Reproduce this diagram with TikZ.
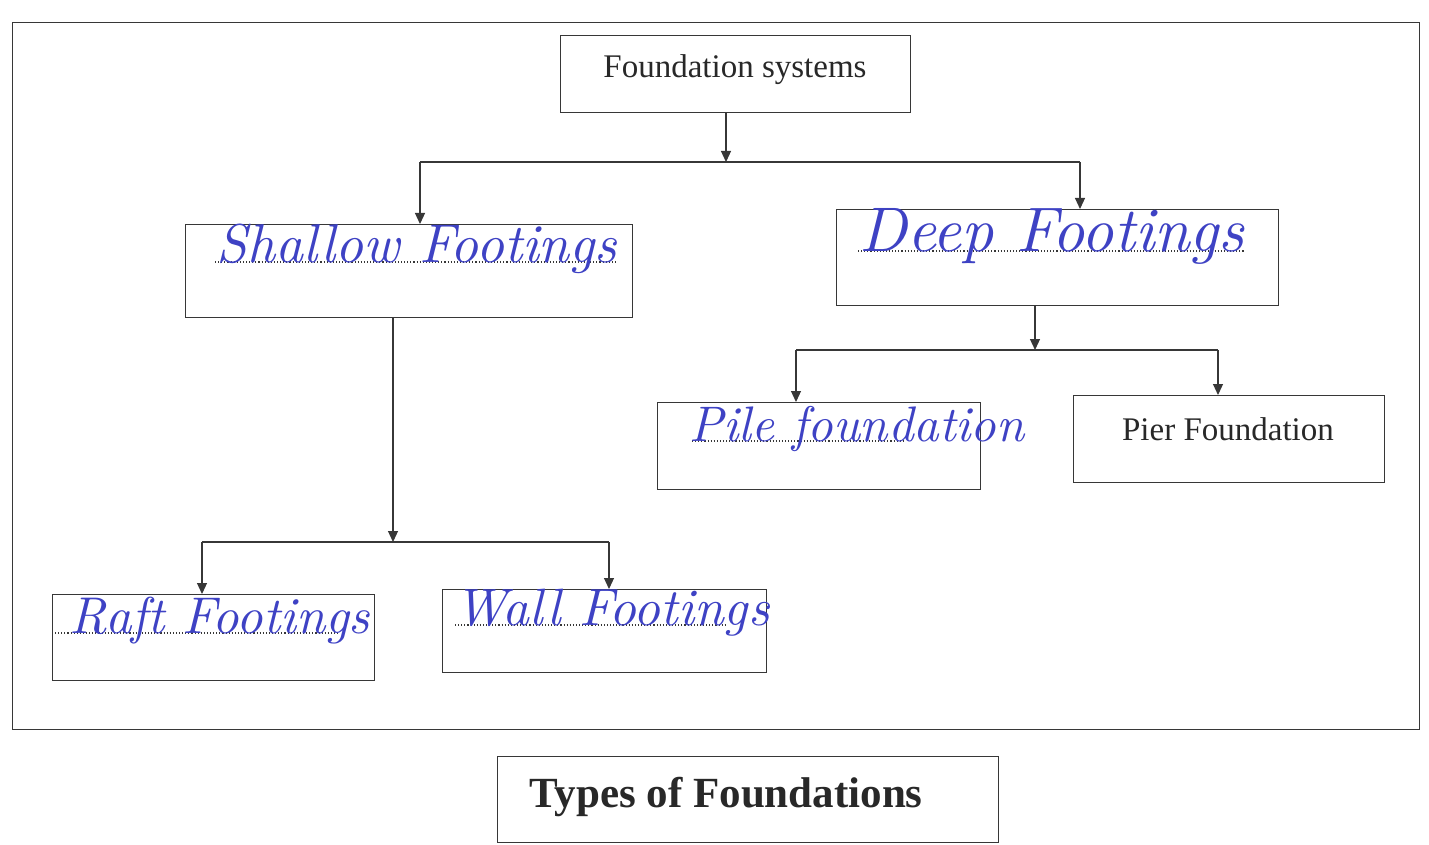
\documentclass[tikz,border=0pt]{standalone}
\usepackage{fontspec}
\usepackage{graphicx}
\newfontfamily\printfont{Liberation Serif}
\usetikzlibrary{arrows.meta}
\definecolor{handblue}{RGB}{62,66,196}
\definecolor{ink}{RGB}{55,55,55}
\definecolor{printink}{RGB}{40,40,40}
\tikzset{
  line/.style={draw=ink, line width=1.2pt},
  box/.style={line, rectangle, inner sep=0pt, anchor=north west},
  arr/.style={line, -{Triangle[length=11pt,width=10pt]}},
  hw/.style={anchor=base, text=handblue, inner sep=0pt},
  dotline/.style={draw=ink, line width=1.1pt, dotted},
  printed/.style={text=printink, inner sep=0pt, font=\printfont\fontsize{33}{38}\selectfont}
}
\newcommand{\handtext}[2]{\resizebox{#1pt}{!}{\itshape #2}}
\begin{document}
\begin{tikzpicture}[x=1pt,y=-1pt]
\useasboundingbox (0,0) rectangle (1429,845);
% outer frame
\node[box, minimum width=1407, minimum height=707] (frame) at (12,22) {};
% boxes
\node[box, minimum width=350, minimum height=77] (fs) at (560,35) {};
\node[box, minimum width=447, minimum height=93] (sh) at (185,224) {};
\node[box, minimum width=442, minimum height=96] (dp) at (836,209) {};
\node[box, minimum width=323, minimum height=87] (pile) at (657,402) {};
\node[box, minimum width=311, minimum height=87] (pier) at (1073,395) {};
\node[box, minimum width=322, minimum height=86] (raft) at (52,594) {};
\node[box, minimum width=324, minimum height=83] (wall) at (442,589) {};
\node[box, minimum width=501, minimum height=86] (types) at (497,756) {};
% printed texts
\node[printed] (fst) at (735,70) {Foundation systems};
\node[printed] (piert) at (1228,429) {Pier Foundation};
\node[printed, font=\printfont\bfseries\fontsize{43}{48}\selectfont] (typest) at (726,797) {Types of Foundations};
% dotted writing lines
\coordinate (d1a) at (215,262); \coordinate (d1b) at (615,262);
\coordinate (d2a) at (858,251); \coordinate (d2b) at (1245,251);
\coordinate (d3a) at (692,441); \coordinate (d3b) at (905,441);
\coordinate (d4a) at (55,633); \coordinate (d4b) at (340,633);
\coordinate (d5a) at (455,625); \coordinate (d5b) at (725,625);
\foreach \s in {1,...,5} {\draw[dotline] (d\s a) -- (d\s b);}
% handwritten answers
\node[hw] (sht) at (417,262) {\handtext{400}{Shallow Footings}};
\node[hw] (dpt) at (1052,251) {\handtext{385}{Deep Footings}};
\node[hw] (pilet) at (857,441) {\handtext{335}{Pile foundation}};
\node[hw] (raftt) at (220,633) {\handtext{300}{Raft Footings}};
\node[hw] (wallt) at (612,625) {\handtext{315}{Wall Footings}};
% connectors level 1
\coordinate (j1) at (726,162);
\coordinate (b1l) at (420,162);
\coordinate (b1r) at (1080,162);
\draw[arr] (j1 |- fs.south) -- (j1);
\draw[line] (b1l) -- (b1r);
\draw[arr] (b1l) -- (b1l |- sh.north);
\draw[arr] (b1r) -- (b1r |- dp.north);
% connectors deep
\coordinate (j2) at (1035,350);
\coordinate (b2l) at (796,350);
\coordinate (b2r) at (1218,350);
\draw[arr] (j2 |- dp.south) -- (j2);
\draw[line] (b2l) -- (b2r);
\draw[arr] (b2l) -- (b2l |- pile.north);
\draw[arr] (b2r) -- (b2r |- pier.north);
% connectors shallow
\coordinate (j3) at (393,542);
\coordinate (b3l) at (202,542);
\coordinate (b3r) at (609,542);
\draw[arr] (j3 |- sh.south) -- (j3);
\draw[line] (b3l) -- (b3r);
\draw[arr] (b3l) -- (b3l |- raft.north);
\draw[arr] (b3r) -- (b3r |- wall.north);
\end{tikzpicture}
\end{document}
